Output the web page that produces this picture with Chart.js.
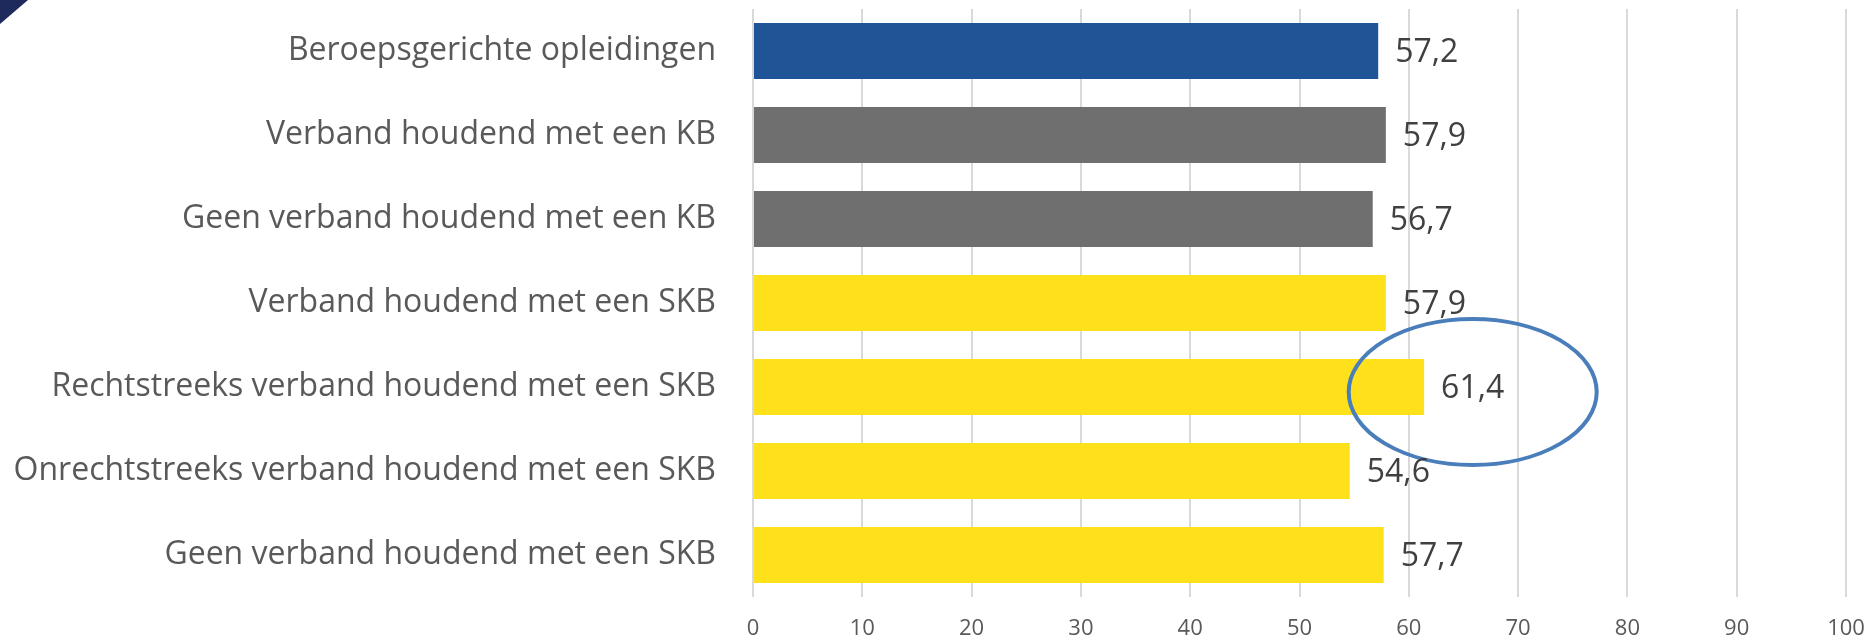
<!DOCTYPE html>
<html>
<head>
<meta charset="utf-8">
<script src="https://cdn.jsdelivr.net/npm/chart.js@4/dist/chart.umd.min.js"></script>
<style>
  html, body { margin: 0; padding: 0; background: #fff; }
  canvas { display: block; }
</style>
</head>
<body>
<canvas id="chart" width="1868" height="639"></canvas>
<script>
// data
const categories = [
  "Beroepsgerichte opleidingen",
  "Verband houdend met een KB",
  "Geen verband houdend met een KB",
  "Verband houdend met een SKB",
  "Rechtstreeks verband houdend met een SKB",
  "Onrechtstreeks verband houdend met een SKB",
  "Geen verband houdend met een SKB",
];
const values = [57.2, 57.9, 56.7, 57.9, 61.4, 54.6, 57.7];
const xTicks = [0, 10, 20, 30, 40, 50, 60, 70, 80, 90, 100];
const circledIndex = 4;

// styles
const barColors = ["#1F5496", "#6F6F6F", "#6F6F6F", "#FFE11B", "#FFE11B", "#FFE11B", "#FFE11B"];
const FONT = "'Open Sans', sans-serif";
const LABEL_SIZE = 32;

// witte achtergrond + donker hoekje linksboven
const background = {
  id: "background",
  beforeDraw(chart) {
    const ctx = chart.ctx;
    ctx.save();
    ctx.fillStyle = "#fff";
    ctx.fillRect(0, 0, chart.width, chart.height);
    ctx.fillStyle = "#1F2A5C";
    ctx.beginPath();
    ctx.moveTo(0, 0);
    ctx.lineTo(28, 0);
    ctx.lineTo(0, 24);
    ctx.closePath();
    ctx.fill();
    ctx.restore();
  },
};

// waarden achter de balken + ellips rond de uitschieter
const valueLabels = {
  id: "valueLabels",
  afterDatasetsDraw(chart) {
    const ctx = chart.ctx;
    const meta = chart.getDatasetMeta(0);
    ctx.save();
    ctx.font = `${LABEL_SIZE}px ${FONT}`;
    ctx.fillStyle = "#404040";
    ctx.textAlign = "left";
    ctx.textBaseline = "middle";
    meta.data.forEach((bar, i) => {
      const text = values[i].toFixed(1).replace(".", ",");
      const tx = bar.x + 17;
      ctx.fillText(text, tx, bar.y + 2);
      if (i === circledIndex) {
        const w = ctx.measureText(text).width;
        ctx.beginPath();
        ctx.ellipse(tx + w / 2, bar.y + 5, 124, 73, 0, 0, Math.PI * 2);
        ctx.strokeStyle = "#4A7EBB";
        ctx.lineWidth = 4;
        ctx.stroke();
      }
    });
    ctx.restore();
  },
};

new Chart(document.getElementById("chart"), {
  type: "bar",
  data: {
    labels: categories,
    datasets: [
      {
        data: values,
        backgroundColor: barColors,
        borderWidth: 0,
        barPercentage: 0.667,
        categoryPercentage: 1,
      },
    ],
  },
  options: {
    indexAxis: "y",
    responsive: false,
    animation: false,
    layout: { padding: { top: 9, right: 22, left: 0, bottom: 0 } },
    plugins: {
      legend: { display: false },
      tooltip: { enabled: false },
    },
    scales: {
      x: {
        min: 0,
        max: 100,
        afterBuildTicks: (scale) => {
          scale.ticks = xTicks.map((v) => ({ value: v }));
        },
        afterFit: (scale) => {
          scale.height = 42;
          scale.paddingLeft = 0;
          scale.paddingRight = 0;
        },
        grid: { color: "#D9D9D9", lineWidth: 2, drawTicks: false },
        border: { display: false },
        ticks: {
          padding: 19,
          color: "#595959",
          font: { family: FONT, size: 22 },
        },
      },
      y: {
        afterFit: (scale) => {
          scale.width = 753;
          scale.paddingTop = 0;
          scale.paddingBottom = 0;
        },
        grid: { display: false, drawTicks: false },
        border: { display: false },
        ticks: {
          padding: 37,
          color: "#595959",
          font: { family: FONT, size: LABEL_SIZE },
        },
      },
    },
  },
  plugins: [background, valueLabels],
});
</script>
</body>
</html>
